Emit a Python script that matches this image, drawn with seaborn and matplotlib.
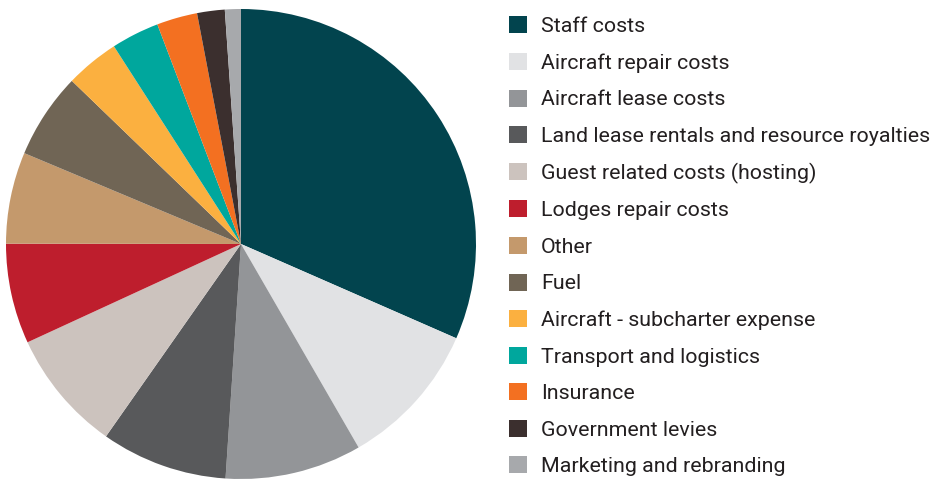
import matplotlib
matplotlib.use("Agg")
import matplotlib.pyplot as plt
from matplotlib.patches import Patch
import seaborn as sns

# Operating cost breakdown (% of total)
categories = [
    "Staff costs",
    "Aircraft repair costs",
    "Aircraft lease costs",
    "Land lease rentals and resource royalties",
    "Guest related costs (hosting)",
    "Lodges repair costs",
    "Other",
    "Fuel",
    "Aircraft - subcharter expense",
    "Transport and logistics",
    "Insurance",
    "Government levies",
    "Marketing and rebranding",
]
shares = [31.6, 10.1, 9.4, 8.7, 8.4, 6.9, 6.3, 5.9, 3.7, 3.3, 2.8, 1.9, 1.1]
colors = [
    "#02444e", "#e1e2e4", "#939598", "#58595b", "#ccc3be", "#be1e2d",
    "#c4996c", "#706555", "#fbb040", "#00a79d", "#f37021", "#3b2f2e",
    "#a7a9ac",
]

sns.set_theme(style="white")
plt.rcParams["font.family"] = ["Roboto", "DejaVu Sans"]
palette = sns.color_palette(colors)

fig = plt.figure(figsize=(9.3, 4.8), dpi=100)
ax = fig.add_axes([6 / 930, 1 - 479 / 480, 470 / 930, 470 / 480])
ax.pie(shares, colors=palette, startangle=90, counterclock=False,
       radius=1.0, wedgeprops=dict(linewidth=0))
ax.set_xlim(-1, 1)
ax.set_ylim(-1, 1)
ax.set_aspect("equal")
ax.axis("off")

handles = [Patch(facecolor=c, edgecolor="none") for c in palette]
fig.legend(handles, categories, loc="upper left",
           bbox_to_anchor=(509 / 930, 1 - 16.5 / 480),
           frameon=False, fontsize=15.4, borderpad=0, borderaxespad=0,
           handlelength=0.84, handleheight=0.84, handletextpad=0.65,
           labelspacing=0.78, labelcolor="#231f20")

fig.savefig("out.png", dpi=100, facecolor="white")
